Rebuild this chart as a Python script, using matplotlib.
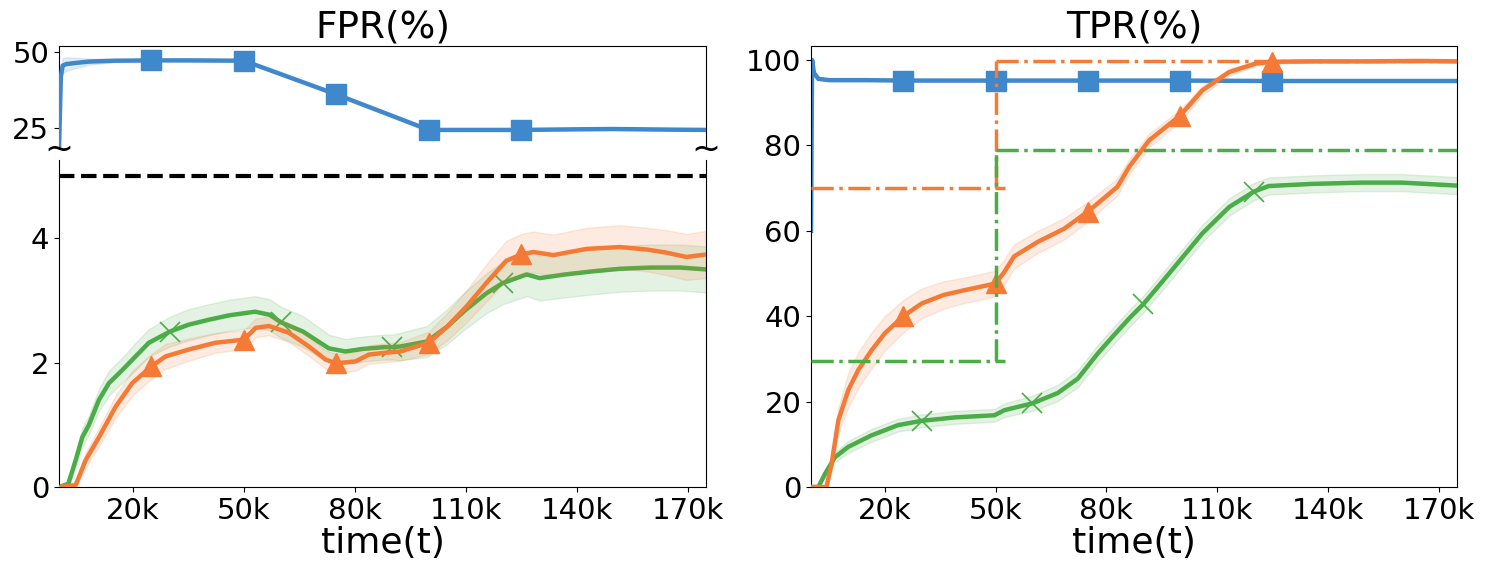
import numpy as np
import matplotlib
matplotlib.use("Agg")
import matplotlib.pyplot as plt

# ---------------- data (x in thousands of steps) ----------------
XMAX = 175
xticks_k = [20, 50, 80, 110, 140, 170]
xtick_labels = ["20k", "50k", "80k", "110k", "140k", "170k"]

# FPR, blue (upper broken part)
fpr_blue_x = [0, 0.5, 1, 2, 4, 8, 15, 25, 35, 50, 75, 100, 125, 140, 150, 165, 175]
fpr_blue_y = [18, 42, 45.5, 46, 46.3, 46.8, 47.1, 47.2, 47.2, 47.1, 36.1, 24.5, 24.5, 24.7, 24.8, 24.6, 24.5]
fpr_blue_hw = [0, 2.5, 2.5, 2.2, 1.8, 1.0, 0.5, 0.3, 0.3, 0.3, 0.3, 0.3, 0.3, 0.3, 0.3, 0.3, 0.3]
fpr_blue_marks = [25, 50, 75, 100, 125]

# FPR, green
fpr_green_x = [0, 2.5, 4.5, 6.3, 8.1, 10.8, 13.5, 17.1, 20.7, 24.3, 30, 35, 40.5, 45.9, 53, 57, 60,
               66, 73, 77.5, 82, 88, 90, 92.3, 99.5, 105, 110, 115.7, 120, 126.5, 130, 137, 144.5,
               151.7, 160, 168, 175]
fpr_green_y = [0, 0.05, 0.43, 0.80, 1.0, 1.40, 1.67, 1.88, 2.10, 2.32, 2.50, 2.61, 2.69, 2.76, 2.82,
               2.77, 2.65, 2.50, 2.23, 2.18, 2.22, 2.25, 2.25, 2.26, 2.34, 2.58, 2.85, 3.12, 3.28,
               3.42, 3.36, 3.42, 3.47, 3.51, 3.53, 3.53, 3.50]
fpr_green_hw = [0, 0.05, 0.12, 0.15, 0.15, 0.18, 0.2, 0.2, 0.22, 0.22, 0.24, 0.25, 0.25, 0.25, 0.25,
                0.25, 0.25, 0.25, 0.22, 0.2, 0.2, 0.2, 0.2, 0.22, 0.25, 0.28, 0.3, 0.32, 0.34,
                0.35, 0.36, 0.37, 0.37, 0.37, 0.37, 0.37, 0.37]
fpr_green_marks = [30, 60, 90, 120]

# FPR, orange
fpr_orange_x = [0, 4.5, 7.2, 10.8, 15.3, 19.8, 25, 28.8, 35, 42.3, 50, 53.2, 56.8, 62.2, 67.6, 72.1,
                75, 80.2, 83.8, 88.3, 92.3, 100, 105, 110.3, 115.7, 121, 125, 128.3, 133.7, 142.7,
                151.7, 158.9, 164.3, 169.7, 175]
fpr_orange_y = [0, 0.03, 0.43, 0.80, 1.29, 1.67, 1.94, 2.10, 2.21, 2.32, 2.37, 2.56, 2.59, 2.48, 2.26,
                2.05, 1.99, 2.02, 2.13, 2.16, 2.18, 2.32, 2.58, 2.91, 3.29, 3.64, 3.74, 3.78, 3.73,
                3.83, 3.86, 3.82, 3.77, 3.70, 3.74]
fpr_orange_hw = [0, 0.05, 0.12, 0.15, 0.18, 0.2, 0.2, 0.2, 0.18, 0.16, 0.15, 0.15, 0.15, 0.15, 0.15,
                 0.15, 0.15, 0.15, 0.15, 0.15, 0.15, 0.18, 0.22, 0.26, 0.3, 0.32, 0.33, 0.33, 0.33,
                 0.34, 0.35, 0.35, 0.36, 0.37, 0.38]
fpr_orange_marks = [25, 50, 75, 100, 125]

fpr_bound = 5.0

# TPR, blue
tpr_blue_x = [0, 0.3, 0.8, 2, 5, 15, 25, 50, 75, 100, 125, 150, 175]
tpr_blue_y = [60, 100, 97, 95.6, 95.3, 95.3, 95.2, 95.2, 95.2, 95.2, 95.1, 95.1, 95.1]
tpr_blue_marks = [25, 50, 75, 100, 125]

# TPR, orange
tpr_orange_x = [0, 4.2, 5.6, 7.4, 10.1, 12.8, 16.4, 20, 25, 30, 36, 41.6, 47, 50, 52.4, 55, 61.4,
                68.6, 75, 83, 86.2, 91.6, 100, 106, 113.3, 120.5, 125, 135, 150, 165, 175]
tpr_orange_y = [0, 0, 5.5, 15.6, 22.7, 27.4, 32, 36, 40, 43, 45, 46.1, 47.1, 47.7, 50.4, 54, 57.4,
                60.5, 64.5, 70.3, 75, 81.2, 87, 92.9, 97.2, 99.2, 99.6, 99.7, 99.7, 99.8, 99.7]
tpr_orange_hw = [0, 0, 1.5, 3, 4, 4.2, 4.2, 4, 3.8, 3.5, 3.2, 3, 3, 3, 3, 2.8, 2.6, 2.5, 2.3, 2,
                 1.8, 1.6, 1.4, 1.1, 0.8, 0.5, 0.4, 0.3, 0.3, 0.3, 0.3]
tpr_orange_marks = [25, 50, 75, 100, 125]

# TPR, green
tpr_green_x = [0, 2, 3.8, 6.5, 10.1, 16.4, 23.6, 30, 38.9, 49.7, 52.4, 60, 66.8, 72.3, 77.7, 82,
               86.2, 90, 97, 106, 113.3, 120, 124, 135.8, 149.3, 160, 175]
tpr_green_y = [0, 0, 3.1, 7.0, 9.4, 12.1, 14.5, 15.5, 16.3, 16.8, 18, 19.6, 22, 25.4, 31.3, 35.5,
               39.5, 42.8, 50, 59.4, 65.6, 69.2, 70.5, 71, 71.3, 71.3, 70.6]
tpr_green_hw = [0, 0, 0.8, 1.2, 1.4, 1.5, 1.5, 1.5, 1.5, 1.5, 1.6, 1.8, 1.9, 2, 2, 2, 2, 2, 2, 2,
                2, 2, 2, 2, 2, 2, 2]
tpr_green_marks = [30, 60, 90, 120]

# TPR target levels (dash-dot), phase change at 50k
phase_x = 50
phase_end = 52.5
orange_levels = [70, 99.8]
green_levels = [29.5, 79]

BLUE = "#3f88cb"
ORANGE = "#f47a36"
GREEN = "#4aad48"

plt.rcParams['font.family'] = ['DejaVu Sans']

fig = plt.figure(figsize=(14.87, 5.75), dpi=100)
W, H = 1487, 575

def ax_at(x0, y0, x1, y1):
    return fig.add_axes([x0 / W, 1 - y1 / H, (x1 - x0) / W, (y1 - y0) / H])

ax_top = ax_at(59, 46, 706, 148)
ax_bot = ax_at(59, 160, 706, 487)
ax_r = ax_at(811, 46, 1457, 487)

LW = 3.2
TICK_FS = 21
TITLE_FS = 27
LABEL_FS = 26

def series(ax, xs, ys, hw, color, marker, marks, ms, mew=1.0, z=2, band_alpha=0.15):
    x = np.array(xs) * 1000.0
    y = np.array(ys)
    if hw is not None:
        h = np.array(hw)
        ax.fill_between(x, y - h, y + h, color=color, alpha=band_alpha, lw=1, zorder=z - 0.5)
    idx = [int(np.argmin(np.abs(np.array(xs) - m))) for m in marks]
    ax.plot(x, y, color=color, lw=LW, marker=marker, markevery=idx, ms=ms,
            mew=mew, mec=color, mfc=color, zorder=z)

# ----- left top -----
series(ax_top, fpr_blue_x, fpr_blue_y, fpr_blue_hw, BLUE, 's', fpr_blue_marks, 15, z=3)
ax_top.set_ylim(18.6, 51.9)
ax_top.set_yticks([25, 50])
ax_top.spines['bottom'].set_visible(False)
ax_top.tick_params(axis='x', which='both', bottom=False, labelbottom=False)
ax_top.set_title("FPR(%)", fontsize=TITLE_FS, pad=6)

# ----- left bottom -----
series(ax_bot, fpr_green_x, fpr_green_y, fpr_green_hw, GREEN, 'x', fpr_green_marks, 15, mew=1.2, z=2)
series(ax_bot, fpr_orange_x, fpr_orange_y, fpr_orange_hw, ORANGE, '^', fpr_orange_marks, 15, z=3)
ax_bot.axhline(fpr_bound, color='black', lw=3, ls='--', zorder=4)
ax_bot.set_ylim(0, 5.26)
ax_bot.set_yticks([0, 2, 4])
ax_bot.spines['top'].set_visible(False)
ax_bot.set_xlabel("time(t)", fontsize=LABEL_FS, labelpad=1)

# break marks
for xa in (0, 1):
    ax_top.text(xa, -0.02, "~", transform=ax_top.transAxes, fontsize=25,
                ha='center', va='center', clip_on=False)

# ----- right -----
series(ax_r, tpr_blue_x, tpr_blue_y, None, BLUE, 's', tpr_blue_marks, 15, z=2)
series(ax_r, tpr_green_x, tpr_green_y, tpr_green_hw, GREEN, 'x', tpr_green_marks, 15, mew=1.2, z=3)
series(ax_r, tpr_orange_x, tpr_orange_y, tpr_orange_hw, ORANGE, '^', tpr_orange_marks, 15, z=4)

for lv, col in ((orange_levels, ORANGE), (green_levels, GREEN)):
    ax_r.plot([0, phase_end * 1000], [lv[0], lv[0]], color=col, lw=2.5, ls='-.', zorder=5)
    ax_r.plot([phase_x * 1000, phase_x * 1000], [lv[0], lv[1]], color=col, lw=2.5, ls='-.', zorder=5)
    ax_r.plot([phase_x * 1000, XMAX * 1000], [lv[1], lv[1]], color=col, lw=2.5, ls='-.', zorder=5)

ax_r.set_ylim(0, 103.3)
ax_r.set_yticks([0, 20, 40, 60, 80, 100])
ax_r.set_title("TPR(%)", fontsize=TITLE_FS, pad=6)
ax_r.set_xlabel("time(t)", fontsize=LABEL_FS, labelpad=1)

for ax in (ax_top, ax_bot, ax_r):
    ax.set_xlim(0, XMAX * 1000)
    ax.tick_params(labelsize=TICK_FS)
for ax in (ax_bot, ax_r):
    ax.set_xticks([v * 1000 for v in xticks_k])
    ax.set_xticklabels(xtick_labels)

fig.savefig("out.png", dpi=100)
